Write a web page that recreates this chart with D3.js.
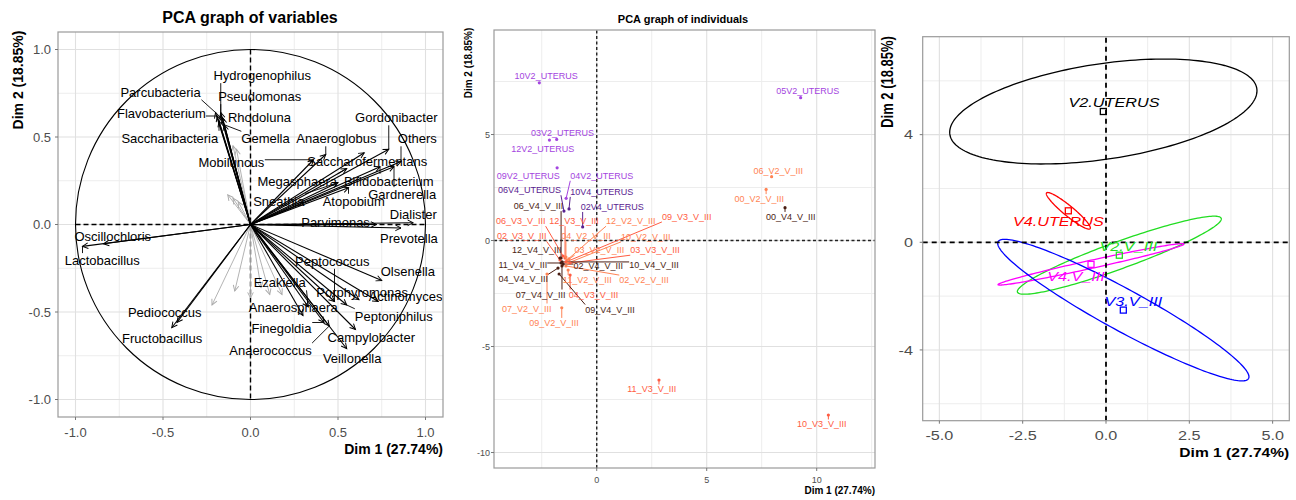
<!DOCTYPE html>
<html><head><meta charset="utf-8">
<script src="https://cdn.jsdelivr.net/npm/d3@7"></script>
<style>body{margin:0;background:#fff;}</style>
</head><body><script>
// ---------------- DATA ----------------
// Panel 1: variables (correlation circle)
const varNames = ["Hydrogenophilus","Parcubacteria","Pseudomonas","Flavobacterium","Rhodoluna","Saccharibacteria","Gemella","Anaeroglobus","Gordonibacter","Others","Mobiluncus","Saccharofermentans","Megasphaera","Bifidobacterium","Gardnerella","Sneathia","Atopobium","Dialister","Parvimonas","Prevotella","Oscillochloris","Lactobacillus","Peptococcus","Olsenella","Ezakiella","Porphyromonas","Actinomyces","Anaerosphaera","Pediococcus","Peptoniphilus","Finegoldia","Campylobacter","Fructobacillus","Anaerococcus","Veillonella"];
const varDim1 = [-0.17,-0.20,-0.17,-0.19,-0.16,-0.18,-0.15,0.43,0.79,0.86,0.36,0.65,0.55,0.74,0.82,0.50,0.56,0.93,0.72,0.86,-0.84,-0.96,0.48,0.75,0.33,0.62,0.73,0.30,-0.42,0.55,0.42,0.60,-0.45,0.45,0.55];
const varDim2 = [0.64,0.64,0.62,0.62,0.61,0.59,0.57,0.40,0.43,0.36,0.37,0.41,0.32,0.33,0.33,0.24,0.21,0.01,0.00,-0.02,-0.11,-0.125,-0.44,-0.32,-0.47,-0.43,-0.44,-0.52,-0.56,-0.46,-0.56,-0.60,-0.59,-0.58,-0.71];
const varLabelDim1 = [0.067,-0.514,0.053,-0.509,0.051,-0.461,0.086,0.491,0.833,0.953,-0.109,0.667,0.267,0.790,0.867,0.162,0.590,0.930,0.486,0.905,-0.787,-0.847,0.467,0.899,0.167,0.638,0.886,0.244,-0.490,0.819,0.177,0.690,-0.505,0.114,0.581];
const varLabelDim2 = [0.851,0.756,0.731,0.633,0.610,0.493,0.490,0.490,0.610,0.490,0.353,0.362,0.247,0.247,0.171,0.133,0.133,0.057,0.013,-0.082,-0.070,-0.206,-0.210,-0.267,-0.333,-0.390,-0.410,-0.476,-0.505,-0.524,-0.596,-0.647,-0.653,-0.720,-0.767];
const minorVarDim1 = [-0.22,-0.09,0.00,0.11,0.18,-0.10,-0.08,-0.13,-0.10,-0.07,0.06];
const minorVarDim2 = [-0.46,-0.38,-0.42,-0.40,-0.40,0.45,0.43,0.17,0.15,0.13,-0.36];
const circleTicks = [-1.0,-0.5,0.0,0.5,1.0];

// Panel 2: individuals
const indNames = ["10V2_UTERUS","05V2_UTERUS","03V2_UTERUS","12V2_UTERUS","09V2_UTERUS","04V2_UTERUS","06V4_UTERUS","10V4_UTERUS","02V4_UTERUS","06_V4_V_III","06_V3_V_III","12_V3_V_III","12_V2_V_III","09_V3_V_III","02_V3_V_III","04_V2_V_III","10_V2_V_III","12_V4_V_III","03_V2_V_III","03_V3_V_III","11_V4_V_III","02_V4_V_III","10_V4_V_III","04_V4_V_III","11_V2_V_III","02_V2_V_III","07_V4_V_III","04_V3_V_III","07_V2_V_III","09_V4_V_III","09_V2_V_III","11_V3_V_III","10_V3_V_III","06_V2_V_III","00_V2_V_III","00_V4_V_III"];
const indGroup = ["V2U","V2U","V2U","V2U","V2U","V2U","V4U","V4U","V4U","V4V","V3V","V3V","V2V","V3V","V3V","V2V","V2V","V4V","V2V","V3V","V4V","V4V","V4V","V4V","V2V","V2V","V4V","V3V","V2V","V4V","V2V","V3V","V3V","V2V","V2V","V4V"];
const indDim1 = [-2.61,9.27,-1.82,-2.15,-1.80,-1.39,-1.49,-1.26,-0.64,-1.62,-1.53,-1.44,-1.35,-1.40,-1.67,-1.40,-1.30,-1.67,-1.26,-1.21,-1.62,-1.53,-1.58,-1.76,-1.30,-1.40,-1.58,-1.21,-2.26,-1.71,-1.59,2.83,10.53,7.95,7.70,8.56];
const indDim2 = [7.44,6.74,4.77,4.74,3.43,1.99,1.39,1.49,0.64,-0.83,-0.73,-0.83,-0.92,-1.01,-0.92,-0.78,-1.06,-0.83,-0.87,-1.06,-1.06,-1.11,-1.01,-1.30,-1.39,-1.20,-1.20,-1.63,-1.58,-1.58,-3.17,-6.58,-8.23,3.01,2.41,1.55];
const indLabelDim1 = [-2.30,9.59,-1.56,-2.45,-3.11,0.23,-3.06,0.23,0.71,-2.65,-3.45,-1.03,1.55,4.09,-3.41,-0.49,2.23,-2.73,0.12,2.65,-3.36,0.07,2.60,-3.34,-0.43,2.15,-2.55,-0.15,-3.18,0.60,-1.94,2.50,10.23,8.25,7.39,8.82];
const indLabelDim2 = [7.76,7.07,5.06,4.33,3.06,3.06,2.38,2.30,1.59,1.63,0.92,0.92,0.92,1.12,0.21,0.21,0.18,-0.42,-0.45,-0.45,-1.16,-1.19,-1.16,-1.83,-1.86,-1.86,-2.54,-2.54,-3.20,-3.25,-3.88,-7.02,-8.67,3.29,1.96,1.12];
const indGroupKeys = ["V2U","V4U","V2V","V3V","V4V"];
const indGroupColors = ["#A445E0","#5A2390","#FF8354","#FF5C42","#4A1D12"];
const indXTicks = [0,5,10];
const indYTicks = [-10,-5,0,5];

// Panel 3: group ellipses
const grpNames = ["V2.UTERUS","V4.UTERUS","V2.V_III","V4.V_III","V3.V_III"];
const grpDim1 = [-0.08,-1.13,0.40,-0.45,0.52];
const grpDim2 = [4.86,1.17,-0.48,-0.82,-2.52];
const ellRx = [4.61,0.66,3.06,2.79,3.77];
const ellRy = [1.95,0.68,1.45,0.77,2.63];
const ellCosPhi = [0.395,-0.936,0.93,0.98,-0.943];
const grpLabelDim1 = [0.24,-1.43,0.67,-0.90,0.82];
const grpLabelDim2 = [5.20,0.77,-0.16,-1.25,-2.18];
const grpColors = ["#000000","#FF0000","#22DD22","#FF00FF","#0000FF"];
const grpXTicks = [-5.0,-2.5,0.0,2.5,5.0];
const grpYTicks = [-4,0,4];

// ---------------- DRAWING ----------------
const FONT = '"Liberation Sans", Arial, Helvetica, sans-serif';
const svg = d3.select("body").append("svg").attr("width",1296).attr("height",500)
  .style("font-family",FONT);
svg.append("rect").attr("width",1296).attr("height",500).attr("fill","#fff");
const defs = svg.append("defs");
function marker(id,color){
  defs.append("marker").attr("id",id).attr("viewBox","0 0 10 10").attr("refX",8).attr("refY",5)
    .attr("markerWidth",8).attr("markerHeight",8).attr("markerUnits","userSpaceOnUse").attr("orient","auto")
    .append("path").attr("d","M1,1.5 L8,5 L1,8.5").attr("fill","none").attr("stroke",color).attr("stroke-width",1.2);
}
marker("ahB","#000"); marker("ahG","#aaaaaa");

function frame(g,x,y,xGrid,yGrid,xMinor,yMinor){
  const [xa,xb]=x.range(), [ya,yb]=y.range();
  g.append("g").selectAll("line").data(xMinor).join("line")
    .attr("x1",d=>x(d)).attr("x2",d=>x(d)).attr("y1",ya).attr("y2",yb).attr("stroke","#ededed").attr("stroke-width",1);
  g.append("g").selectAll("line").data(yMinor).join("line")
    .attr("y1",d=>y(d)).attr("y2",d=>y(d)).attr("x1",xa).attr("x2",xb).attr("stroke","#ededed").attr("stroke-width",1);
  g.append("g").selectAll("line").data(xGrid).join("line")
    .attr("x1",d=>x(d)).attr("x2",d=>x(d)).attr("y1",ya).attr("y2",yb).attr("stroke","#e0e0e0").attr("stroke-width",1.1);
  g.append("g").selectAll("line").data(yGrid).join("line")
    .attr("y1",d=>y(d)).attr("y2",d=>y(d)).attr("x1",xa).attr("x2",xb).attr("stroke","#e0e0e0").attr("stroke-width",1.1);
}
function border(g,x,y){
  const [xa,xb]=x.range(), [ya,yb]=y.range();
  g.append("rect").attr("x",xa).attr("y",yb).attr("width",xb-xa).attr("height",ya-yb)
    .attr("fill","none").attr("stroke","#9a9a9a").attr("stroke-width",1.2);
}
function ticks(g,x,y,xt,yt,fmtX,fmtY,size,stretch,xLabY,yLabX){
  const [xa,xb]=x.range(), [ya,yb]=y.range();
  g.append("g").selectAll("line").data(xt).join("line").attr("x1",d=>x(d)).attr("x2",d=>x(d))
    .attr("y1",ya).attr("y2",ya+3).attr("stroke","#777");
  g.append("g").selectAll("line").data(yt).join("line").attr("y1",d=>y(d)).attr("y2",d=>y(d))
    .attr("x1",xa).attr("x2",xa-3).attr("stroke","#777");
  g.append("g").selectAll("text").data(xt).join("text")
    .attr("transform",d=>`translate(${x(d)},${xLabY}) scale(${stretch},1)`)
    .attr("text-anchor","middle").attr("dy","0.35em").attr("font-size",size).attr("fill","#4d4d4d").text(fmtX);
  g.append("g").selectAll("text").data(yt).join("text")
    .attr("transform",d=>`translate(${yLabX},${y(d)}) scale(${stretch},1)`)
    .attr("text-anchor","end").attr("dy","0.35em").attr("font-size",size).attr("fill","#4d4d4d").text(fmtY);
}
function leader(gl,tx,ty,bb,color,thr,w){
  const cx=Math.max(bb.x,Math.min(tx,bb.x+bb.width)), cy=Math.max(bb.y,Math.min(ty,bb.y+bb.height));
  if(Math.hypot(cx-tx,cy-ty)>thr){
    gl.append("line").attr("x1",tx).attr("y1",ty).attr("x2",cx).attr("y2",cy).attr("stroke",color).attr("stroke-width",w);
  }
}

// ===== Panel 1 =====
{
  const x=d3.scaleLinear().domain([-1.1,1.1]).range([58,443]);
  const y=d3.scaleLinear().domain([-1.1,1.1]).range([417,32]);
  const g=svg.append("g");
  frame(g,x,y,circleTicks,circleTicks,[-0.75,-0.25,0.25,0.75],[-0.75,-0.25,0.25,0.75]);
  // dashed axes
  g.append("line").attr("x1",x(-1)).attr("x2",x(1)).attr("y1",y(0)).attr("y2",y(0))
    .attr("stroke","#000").attr("stroke-width",1.4).attr("stroke-dasharray","5,3");
  g.append("line").attr("x1",x(0)).attr("x2",x(0)).attr("y1",y(1)).attr("y2",y(-1))
    .attr("stroke","#000").attr("stroke-width",1.4).attr("stroke-dasharray","5,3");
  g.append("circle").attr("cx",x(0)).attr("cy",y(0)).attr("r",x(1)-x(0)).attr("fill","none").attr("stroke","#000").attr("stroke-width",1.1);
  // minor (grey) arrows
  g.append("g").selectAll("line").data(minorVarDim1).join("line")
    .attr("x1",x(0)).attr("y1",y(0)).attr("x2",d=>x(d)).attr("y2",(d,i)=>y(minorVarDim2[i]))
    .attr("stroke","#aaaaaa").attr("stroke-width",0.9).attr("marker-end","url(#ahG)");
  g.append("g").selectAll("line").data(varDim1).join("line")
    .attr("x1",x(0)).attr("y1",y(0)).attr("x2",d=>x(d)).attr("y2",(d,i)=>y(varDim2[i]))
    .attr("stroke","#000").attr("stroke-width",1.1).attr("marker-end","url(#ahB)");
  const gl=g.append("g"), gt=g.append("g");
  varNames.forEach((n,i)=>{
    const t=gt.append("text").attr("x",x(varLabelDim1[i])).attr("y",y(varLabelDim2[i])).attr("dy","0.35em")
      .attr("text-anchor","middle").attr("font-size",13).attr("fill","#000").text(n);
    leader(gl,x(varDim1[i]),y(varDim2[i]),t.node().getBBox(),"#000",6,0.9);
  });
  border(g,x,y);
  ticks(g,x,y,circleTicks,circleTicks,d=>d.toFixed(1),d=>d.toFixed(1),13,1,432,51);
  svg.append("text").attr("x",250).attr("y",17).attr("dy","0.35em").attr("text-anchor","middle")
    .attr("font-size",16).attr("font-weight","bold").text("PCA graph of variables");
  svg.append("text").attr("x",443).attr("y",449).attr("dy","0.35em").attr("text-anchor","end")
    .attr("font-size",14).attr("font-weight","bold").text("Dim 1 (27.74%)");
  svg.append("text").attr("transform","translate(18,80) rotate(-90)").attr("dy","0.35em").attr("text-anchor","middle")
    .attr("font-size",14).attr("font-weight","bold").text("Dim 2 (18.85%)");
}

// ===== Panel 2 =====
{
  const x=d3.scaleLinear().domain([-4.67,12.65]).range([494,875]);
  const y=d3.scaleLinear().domain([-10.73,9.93]).range([468,30]);
  const col=d3.scaleOrdinal().domain(indGroupKeys).range(indGroupColors);
  const g=svg.append("g");
  frame(g,x,y,indXTicks,indYTicks,[-2.5,2.5,7.5,12.5],[-7.5,-2.5,2.5,7.5]);
  g.append("line").attr("x1",x.range()[0]).attr("x2",x.range()[1]).attr("y1",y(0)).attr("y2",y(0))
    .attr("stroke","#222").attr("stroke-width",1.4).attr("stroke-dasharray","3,2.5");
  g.append("line").attr("x1",x(0)).attr("x2",x(0)).attr("y1",y.range()[0]).attr("y2",y.range()[1])
    .attr("stroke","#222").attr("stroke-width",1.4).attr("stroke-dasharray","3,2.5");
  const gl=g.append("g"), gp=g.append("g"), gt=g.append("g");
  indNames.forEach((n,i)=>{
    const c=col(indGroup[i]);
    const t=gt.append("text").attr("x",x(indLabelDim1[i])).attr("y",y(indLabelDim2[i])).attr("dy","0.35em")
      .attr("text-anchor","middle").attr("font-size",9).attr("fill",c).text(n);
    leader(gl,x(indDim1[i]),y(indDim2[i]),t.node().getBBox(),c,4,1);
    gp.append("circle").attr("cx",x(indDim1[i])).attr("cy",y(indDim2[i])).attr("r",1.6).attr("fill",c);
  });
  border(g,x,y);
  ticks(g,x,y,indXTicks,indYTicks,d=>d,d=>d,9,1,480,490);
  svg.append("text").attr("x",683).attr("y",19).attr("dy","0.35em").attr("text-anchor","middle")
    .attr("font-size",11).attr("font-weight","bold").text("PCA graph of individuals");
  svg.append("text").attr("x",875).attr("y",490).attr("dy","0.35em").attr("text-anchor","end")
    .attr("font-size",10).attr("font-weight","bold").text("Dim 1 (27.74%)");
  svg.append("text").attr("transform","translate(468,63) rotate(-90)").attr("dy","0.35em").attr("text-anchor","middle")
    .attr("font-size",10).attr("font-weight","bold").text("Dim 2 (18.85%)");
}

// ===== Panel 3 =====
{
  const x=d3.scaleLinear().domain([-5.5,5.5]).range([922.7,1289.3]);
  const y=d3.scaleLinear().domain([-6.63,7.64]).range([420.7,36.7]);
  const g=svg.append("g");
  frame(g,x,y,grpXTicks,grpYTicks,[-3.75,-1.25,1.25,3.75],[-6,-2,2,6]);
  const line=d3.line().x(d=>x(d[0])).y(d=>y(d[1])).curve(d3.curveLinearClosed);
  const ts=d3.range(0,2*Math.PI,Math.PI/90);
  grpNames.forEach((n,i)=>{
    const phi=Math.acos(ellCosPhi[i]);
    const pts=ts.map(t=>[grpDim1[i]+ellRx[i]*Math.cos(t), grpDim2[i]+ellRy[i]*Math.cos(t-phi)]);
    g.append("path").attr("d",line(pts)).attr("fill","none").attr("stroke",grpColors[i]).attr("stroke-width",1.3);
  });
  g.append("line").attr("x1",x.range()[0]).attr("x2",x.range()[1]).attr("y1",y(0)).attr("y2",y(0))
    .attr("stroke","#000").attr("stroke-width",1.8).attr("stroke-dasharray","5,4");
  g.append("line").attr("x1",x(0)).attr("x2",x(0)).attr("y1",y.range()[0]).attr("y2",y.range()[1])
    .attr("stroke","#000").attr("stroke-width",1.8).attr("stroke-dasharray","5,4");
  grpNames.forEach((n,i)=>{
    g.append("rect").attr("x",x(grpDim1[i])-3).attr("y",y(grpDim2[i])-3).attr("width",6).attr("height",6)
      .attr("fill","none").attr("stroke",grpColors[i]).attr("stroke-width",1.3);
    g.append("text").attr("transform",`translate(${x(grpLabelDim1[i])},${y(grpLabelDim2[i])}) scale(1.2,1)`)
      .attr("dy","0.35em").attr("text-anchor","middle").attr("font-size",13.5).attr("font-style","italic")
      .attr("fill",grpColors[i]).text(n);
  });
  border(g,x,y);
  ticks(g,x,y,grpXTicks,grpYTicks,d=>d.toFixed(1),d=>d,13.5,1.2,435,913);
  svg.append("text").attr("transform","translate(1289.3,452) scale(1.2,1)").attr("dy","0.35em").attr("text-anchor","end")
    .attr("font-size",13).attr("font-weight","bold").text("Dim 1 (27.74%)");
  svg.append("text").attr("transform","translate(888,82) scale(1.2,1) rotate(-90)").attr("dy","0.35em").attr("text-anchor","middle")
    .attr("font-size",13).attr("font-weight","bold").text("Dim 2 (18.85%)");
}
</script></body></html>
